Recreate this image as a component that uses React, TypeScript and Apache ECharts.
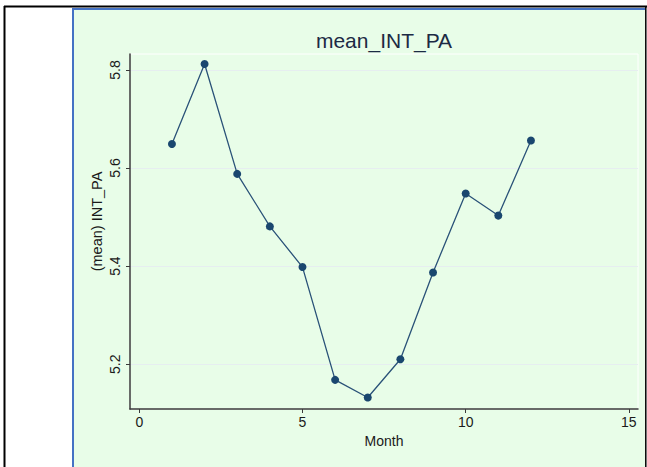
import React, { useEffect, useRef } from "react";
import * as echarts from "echarts";

// Monthly mean of INT_PA
const months = [1, 2, 3, 4, 5, 6, 7, 8, 9, 10, 11, 12];
const meanIntPa = [5.649, 5.812, 5.588, 5.481, 5.398, 5.168, 5.132, 5.21, 5.387, 5.548, 5.503, 5.656];

// Axis ticks and ranges
const xTicks = [0, 5, 10, 15];
const yTicks = [5.2, 5.4, 5.6, 5.8];
const xRange = [-0.285, 15.28];
const yRange = [5.1086, 5.8325];

const titleText = "mean_INT_PA";
const xAxisTitle = "Month";
const yAxisTitle = "(mean) INT_PA";

const FONT = "Liberation Sans, Arial, sans-serif";
const NAVY = "#1a476f";
const PANEL = "#e8fde8";
const AXIS = "#3a3a3a";

export default function App() {
  const ref = useRef<HTMLDivElement>(null);

  useEffect(() => {
    if (!ref.current) return;
    const chart = echarts.init(ref.current, null, { renderer: "svg" });
    chart.setOption({
      animation: false,
      backgroundColor: "#ffffff",
      graphic: [
        // panel background
        { type: "rect", z: -10, shape: { x: 74, y: 10, width: 571, height: 457 }, style: { fill: PANEL } },
        // outer black frame
        { type: "line", z: -5, shape: { x1: 4, y1: 6.5, x2: 647, y2: 6.5 }, style: { stroke: "#000", lineWidth: 2 } },
        { type: "line", z: -5, shape: { x1: 4.5, y1: 6, x2: 4.5, y2: 467 }, style: { stroke: "#000", lineWidth: 2 } },
        { type: "line", z: -5, shape: { x1: 645.8, y1: 6, x2: 645.8, y2: 467 }, style: { stroke: "#000", lineWidth: 1.5 } },
        // blue panel edge
        { type: "line", z: -5, shape: { x1: 72, y1: 9, x2: 645, y2: 9 }, style: { stroke: "#4472c4", lineWidth: 2 } },
        { type: "line", z: -5, shape: { x1: 73, y1: 8, x2: 73, y2: 467 }, style: { stroke: "#4472c4", lineWidth: 2 } },
        // titles
        {
          type: "text",
          x: 384,
          y: 40,
          style: {
            text: titleText,
            font: `21px ${FONT}`,
            fill: "#1c2a44",
            textAlign: "center",
            textVerticalAlign: "middle",
          },
        },
        {
          type: "text",
          x: 384,
          y: 441,
          style: {
            text: xAxisTitle,
            font: `14px ${FONT}`,
            fill: "#1a1a1a",
            textAlign: "center",
            textVerticalAlign: "middle",
          },
        },
        {
          type: "text",
          x: 97,
          y: 221.5,
          rotation: Math.PI / 2,
          style: {
            text: yAxisTitle,
            font: `14.5px ${FONT}`,
            fill: "#1a1a1a",
            textAlign: "center",
            textVerticalAlign: "middle",
          },
        },
      ],
      grid: {
        left: 130,
        right: 9,
        top: 54,
        bottom: 58,
        show: true,
        backgroundColor: "transparent",
        borderColor: "#ffffff",
        borderWidth: 1,
      },
      xAxis: {
        type: "value",
        min: xRange[0],
        max: xRange[1],
        axisLine: { show: true, onZero: false, lineStyle: { color: AXIS, width: 1.5 } },
        axisTick: { show: true, length: 4, customValues: xTicks, lineStyle: { color: AXIS, width: 1 } },
        axisLabel: {
          customValues: xTicks,
          margin: 6,
          fontFamily: FONT,
          fontSize: 14,
          color: "#1a1a1a",
        },
        splitLine: { show: false },
      },
      yAxis: {
        type: "value",
        min: yRange[0],
        max: yRange[1],
        axisLine: { show: true, onZero: false, lineStyle: { color: AXIS, width: 1.5 } },
        axisTick: { show: true, length: 4, customValues: yTicks, lineStyle: { color: AXIS, width: 1 } },
        axisLabel: {
          customValues: yTicks,
          rotate: 90,
          margin: 8,
          fontFamily: FONT,
          fontSize: 14,
          color: "#1a1a1a",
          formatter: (v: number) => v.toFixed(1),
        },
        splitLine: { show: true, lineStyle: { color: "#e6eef0", width: 1 } },
      },
      series: [
        {
          type: "line",
          data: months.map((m, i) => [m, meanIntPa[i]]),
          symbol: "circle",
          symbolSize: 8,
          itemStyle: { color: NAVY },
          lineStyle: { color: "#2a5278", width: 1.3 },
        },
      ],
    });
    return () => chart.dispose();
  }, []);

  return (
    <div
      ref={ref}
      style={{ position: "absolute", left: 0, top: 0, width: 647, height: 467 }}
    />
  );
}
